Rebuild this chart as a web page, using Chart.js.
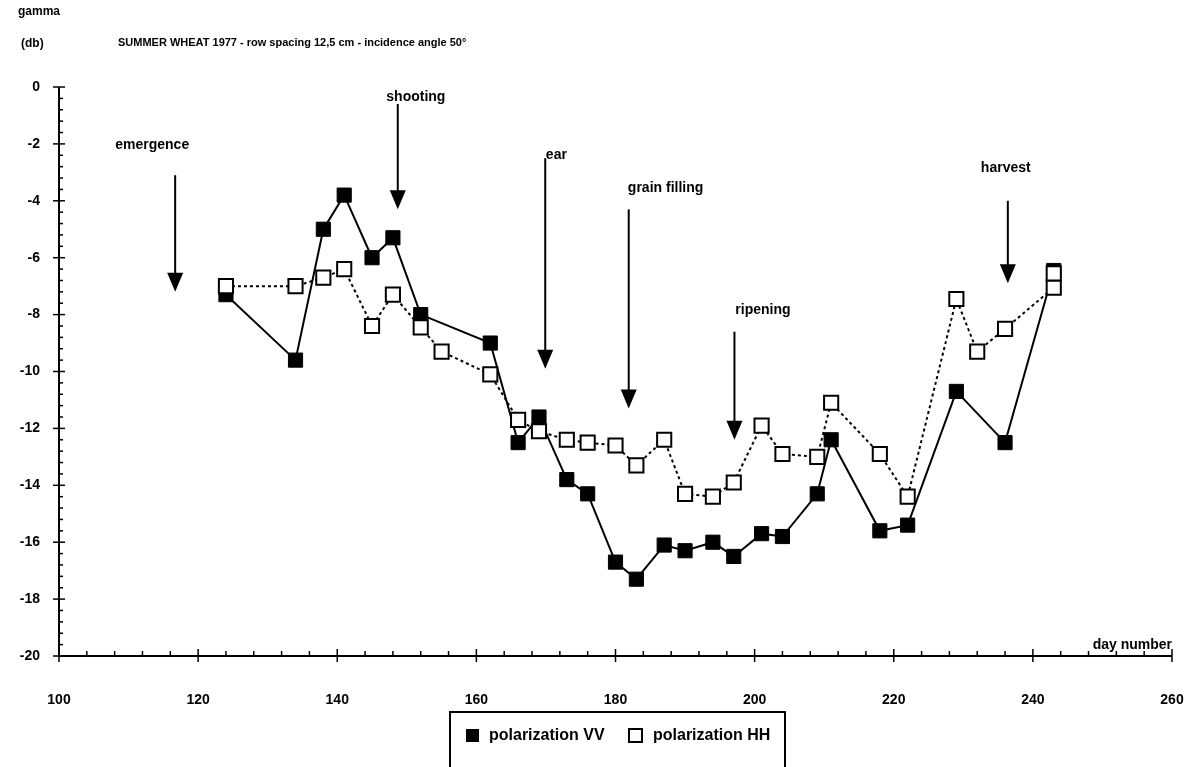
<!DOCTYPE html>
<html>
<head>
<meta charset="utf-8">
<script src="https://cdn.jsdelivr.net/npm/chart.js@4.4.0/dist/chart.umd.min.js"></script>
<style>
  html, body { margin: 0; padding: 0; background: #fff; }
  #wrap { width: 1197px; height: 767px; position: relative; }
</style>
</head>
<body>
<div id="wrap"><canvas id="wheatChart"></canvas></div>
<script>
// day numbers and backscatter (db)
const vvDays = [124, 134, 138, 141, 145, 148, 152, 162, 166, 169, 173, 176, 180, 183, 187, 190, 194, 197, 201, 204, 209, 211, 218, 222, 229, 236, 243];
const vvValues = [-7.3, -9.6, -5.0, -3.8, -6.0, -5.3, -8.0, -9.0, -12.5, -11.6, -13.8, -14.3, -16.7, -17.3, -16.1, -16.3, -16.0, -16.5, -15.7, -15.8, -14.3, -12.4, -15.6, -15.4, -10.7, -12.5, -6.45];

const hhDays = [124, 134, 138, 141, 145, 148, 152, 155, 162, 166, 169, 173, 176, 180, 183, 187, 190, 194, 197, 201, 204, 209, 211, 218, 222, 229, 232, 236, 243, 243];
const hhValues = [-7.0, -7.0, -6.7, -6.4, -8.4, -7.3, -8.45, -9.3, -10.1, -11.7, -12.1, -12.4, -12.5, -12.6, -13.3, -12.4, -14.3, -14.4, -13.9, -11.9, -12.9, -13.0, -11.1, -12.9, -14.4, -7.45, -9.3, -8.5, -7.05, -6.55];

// growth stages: arrow day, arrow top / tip (db), label position
const stageNames = ['emergence', 'shooting', 'ear', 'grain filling', 'ripening', 'harvest'];
const stageDays = [116.7, 148.7, 169.9, 181.9, 197.1, 236.4];
const stageTop = [-3.1, -0.6, -2.5, -4.3, -8.6, -4.0];
const stageTip = [-7.2, -4.3, -9.9, -11.3, -12.4, -6.9];
const stageLabelDays = [113.4, 151.3, 171.5, 187.2, 201.2, 236.1];
const stageLabelValues = [-2.05, -0.35, -2.4, -3.55, -7.85, -2.85];

const xTicks = [100, 120, 140, 160, 180, 200, 220, 240, 260];
const yTicks = [0, -2, -4, -6, -8, -10, -12, -14, -16, -18, -20];

const FONT = "'Liberation Sans', Arial, sans-serif";

const decorations = {
  id: 'decorations',
  afterDraw(chart) {
    const { ctx, scales: { x, y } } = chart;
    const x0 = x.getPixelForValue(100);
    const xEnd = x.getPixelForValue(260);
    const yBottom = y.getPixelForValue(-20);
    const yTop = y.getPixelForValue(0);
    ctx.save();
    ctx.strokeStyle = '#000';
    ctx.fillStyle = '#000';
    ctx.lineWidth = 2;

    // axes
    ctx.beginPath();
    ctx.moveTo(x0, yTop);
    ctx.lineTo(x0, yBottom);
    ctx.lineTo(xEnd, yBottom);
    ctx.stroke();

    ctx.lineWidth = 1.5;
    for (let i = 0; i <= 50; i++) {
      const py = y.getPixelForValue(-i * 0.4);
      ctx.beginPath();
      if (i % 5 === 0) { ctx.moveTo(x0 - 6, py); ctx.lineTo(x0 + 6, py); }
      else { ctx.moveTo(x0, py); ctx.lineTo(x0 + 4, py); }
      ctx.stroke();
    }
    for (let i = 0; i <= 40; i++) {
      const px = x.getPixelForValue(100 + i * 4);
      ctx.beginPath();
      if (i % 5 === 0) { ctx.moveTo(px, yBottom - 7); ctx.lineTo(px, yBottom + 6); }
      else { ctx.moveTo(px, yBottom); ctx.lineTo(px, yBottom - 5); }
      ctx.stroke();
    }

    // stage arrows
    ctx.lineWidth = 2;
    ctx.textAlign = 'center';
    ctx.textBaseline = 'middle';
    ctx.font = 'bold 14px ' + FONT;
    stageNames.forEach((name, i) => {
      const px = x.getPixelForValue(stageDays[i]);
      const top = y.getPixelForValue(stageTop[i]);
      const tip = y.getPixelForValue(stageTip[i]);
      ctx.beginPath();
      ctx.moveTo(px, top);
      ctx.lineTo(px, tip - 16);
      ctx.stroke();
      ctx.beginPath();
      ctx.moveTo(px - 8, tip - 19);
      ctx.lineTo(px + 8, tip - 19);
      ctx.lineTo(px, tip);
      ctx.closePath();
      ctx.fill();
      ctx.fillText(name, x.getPixelForValue(stageLabelDays[i]), y.getPixelForValue(stageLabelValues[i]));
    });

    // texts around the plot
    ctx.textAlign = 'left';
    ctx.font = 'bold 12px ' + FONT;
    ctx.fillText('gamma', 18, 12);
    ctx.fillText('(db)', 21, 44);
    ctx.font = 'bold 11px ' + FONT;
    ctx.fillText('SUMMER WHEAT 1977 - row spacing 12,5 cm - incidence angle 50°', 118, 43);
    ctx.textAlign = 'right';
    ctx.textBaseline = 'alphabetic';
    ctx.font = 'bold 14px ' + FONT;
    ctx.fillText('day number', xEnd, yBottom - 7);

    // legend box
    ctx.lineWidth = 2;
    ctx.strokeRect(450, 712, 335, 80);
    ctx.fillRect(466, 729, 13, 13);
    ctx.strokeRect(629, 729, 13, 13);
    ctx.textAlign = 'left';
    ctx.textBaseline = 'middle';
    ctx.font = 'bold 16px ' + FONT;
    ctx.fillText('polarization VV', 489, 736);
    ctx.fillText('polarization HH', 653, 736);
    ctx.restore();
  }
};

const ctx = document.getElementById('wheatChart').getContext('2d');
const wheatChart = new Chart(ctx, {
  type: 'scatter',
  data: {
    datasets: [{
      label: 'polarization HH',
      data: hhDays.map((d, i) => ({ x: d, y: hhValues[i] })),
      showLine: true,
      borderColor: '#000',
      borderWidth: 2,
      borderDash: [3, 3],
      pointStyle: 'rect',
      pointRadius: 10,
      pointBorderWidth: 2,
      pointBackgroundColor: '#fff',
      pointBorderColor: '#000',
      order: 0,
    }, {
      label: 'polarization VV',
      data: vvDays.map((d, i) => ({ x: d, y: vvValues[i] })),
      showLine: true,
      borderColor: '#000',
      borderWidth: 2,
      pointStyle: 'rect',
      pointRadius: 10,
      pointBorderWidth: 1,
      pointBackgroundColor: '#000',
      pointBorderColor: '#000',
      order: 1,
    }]
  },
  options: {
    responsive: true,
    maintainAspectRatio: false,
    animation: false,
    layout: { padding: { left: 0, right: 25, top: 87, bottom: 0 } },
    plugins: {
      legend: { display: false },
      tooltip: { enabled: false },
    },
    scales: {
      x: {
        type: 'linear',
        min: 100,
        max: 260,
        afterFit: s => { s.height = 111; s.paddingLeft = 0; s.paddingRight = 0; },
        afterBuildTicks: s => { s.ticks = xTicks.map(v => ({ value: v })); },
        grid: { display: false },
        border: { display: false },
        ticks: { color: '#000', padding: 28, font: { family: FONT, size: 14, weight: 'bold' } },
      },
      y: {
        min: -20,
        max: 0,
        afterFit: s => { s.width = 59; s.paddingTop = 0; s.paddingBottom = 0; },
        afterBuildTicks: s => { s.ticks = yTicks.map(v => ({ value: v })); },
        grid: { display: false },
        border: { display: false },
        ticks: { color: '#000', padding: 11, font: { family: FONT, size: 14, weight: 'bold' } },
      },
    },
  },
  plugins: [decorations],
});
</script>
</body>
</html>
